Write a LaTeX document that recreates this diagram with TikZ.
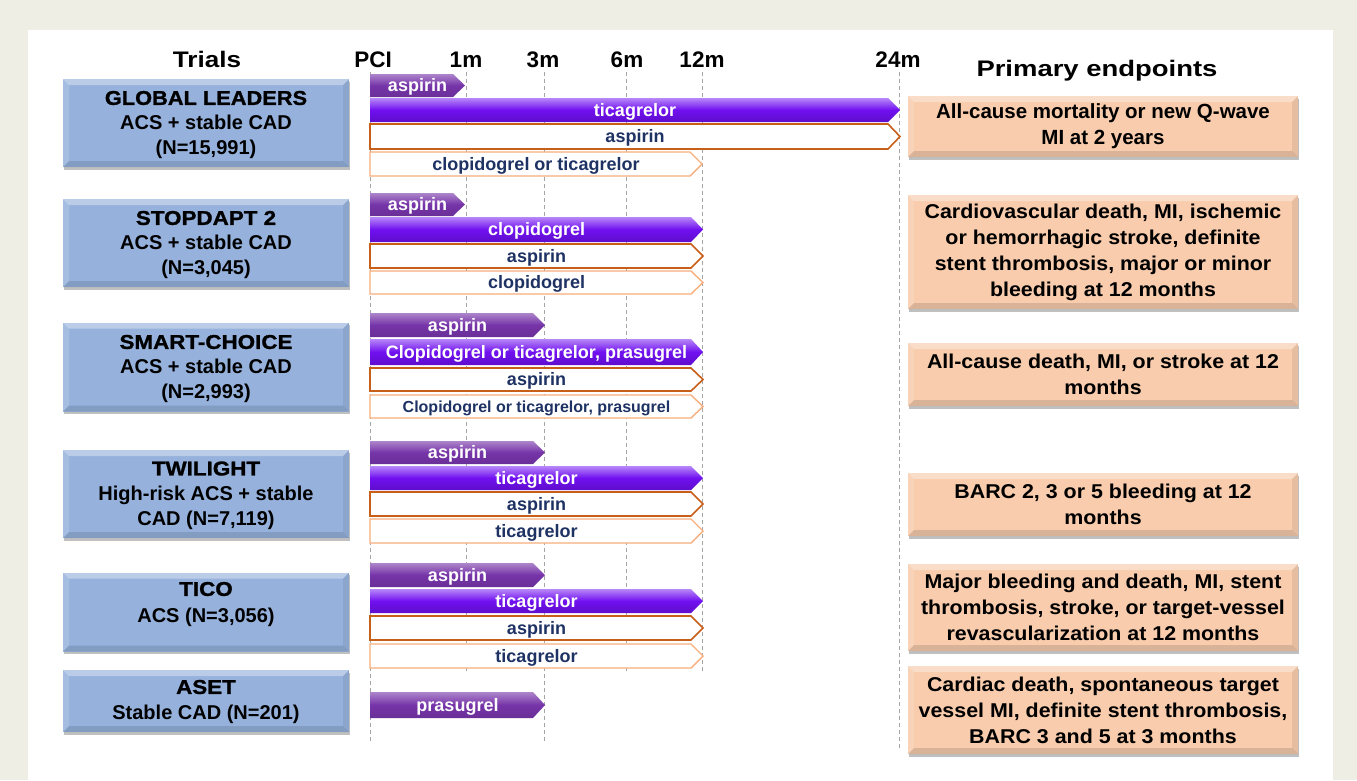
\documentclass[tikz,border=0pt]{standalone}
\usepackage{fontspec}
\setmainfont{Liberation Sans}
\newfontfamily\fwide[FakeStretch=1.22]{Liberation Sans}
\newfontfamily\fmid[FakeStretch=1.16]{Liberation Sans}
\newfontfamily\ftitle[FakeStretch=1.12,FakeBold=1.2]{Liberation Sans}
\newfontfamily\fgl[FakeStretch=1.09,FakeBold=1.2]{Liberation Sans}
\newfontfamily\frb[FakeStretch=1.07]{Liberation Sans}
\usetikzlibrary{shadows}
\definecolor{pshort}{RGB}{118,52,168}
\definecolor{plong}{RGB}{112,16,240}
\definecolor{odark}{RGB}{200,95,25}
\definecolor{olight}{RGB}{246,175,125}
\definecolor{navy}{RGB}{30,50,100}
\definecolor{trialblue}{RGB}{150,178,220}
\definecolor{peach}{RGB}{248,204,172}
\definecolor{beige}{RGB}{238,238,228}
\definecolor{dashgray}{RGB}{165,165,165}
\tikzset{
  bevel/.style={path picture={
    \fill[white,opacity=.35] (path picture bounding box.north west) -- (path picture bounding box.north east) -- ([xshift=-6pt,yshift=-6pt]path picture bounding box.north east) -- ([xshift=6pt,yshift=-6pt]path picture bounding box.north west) -- cycle;
    \fill[white,opacity=.15] (path picture bounding box.north west) -- ([xshift=6pt,yshift=-6pt]path picture bounding box.north west) -- ([xshift=6pt,yshift=6pt]path picture bounding box.south west) -- (path picture bounding box.south west) -- cycle;
    \fill[black,opacity=.07] (path picture bounding box.north east) -- ([xshift=-6pt,yshift=-6pt]path picture bounding box.north east) -- ([xshift=-6pt,yshift=6pt]path picture bounding box.south east) -- (path picture bounding box.south east) -- cycle;
    \fill[black,opacity=.12] (path picture bounding box.south west) -- ([xshift=6pt,yshift=6pt]path picture bounding box.south west) -- ([xshift=-6pt,yshift=6pt]path picture bounding box.south east) -- (path picture bounding box.south east) -- cycle;
  }},
  boxshadow/.style={drop shadow={shadow xshift=1pt,shadow yshift=-2.5pt,opacity=.35,fill=black!70}},
  trial/.style={rectangle, fill=trialblue, minimum width=286pt, minimum height=#1, inner sep=0pt, align=center, boxshadow, bevel, font=\bfseries\fontsize{20}{25}\selectfont},
  endpoint/.style={rectangle, fill=peach, minimum width=390pt, minimum height=#1, inner sep=0pt, align=center, boxshadow, bevel, font=\frb\bfseries\fontsize{20}{26}\selectfont},
  hdr/.style={anchor=base, inner sep=0pt, font=\bfseries\fontsize{22.5}{22.5}\selectfont},
  sA/.style={top color=pshort!60!white, bottom color=pshort!90!black, middle color=pshort},
  lA/.style={top color=plong!50!white, bottom color=plong!85!black, middle color=plong},
  wD/.style={fill=white, draw=odark, line width=1.6pt, line join=miter},
  wL/.style={fill=white, draw=olight, line width=1.4pt, line join=miter},
  wt/.style={anchor=base, inner sep=0pt, text=white, font=\bfseries\fontsize{18}{20}\selectfont},
  nt/.style={anchor=base, inner sep=0pt, text=navy, font=\bfseries\fontsize{18}{20}\selectfont},
  nts/.style={anchor=base, inner sep=0pt, text=navy, font=\bfseries\fontsize{16}{18}\selectfont},
  grid/.style={draw=dashgray, line width=0.8pt, dash pattern=on 4pt off 3pt},
}
\newcommand\drugbar[8]{%
  \path[#1] (#3,#5) -- ({#4-12},#5) -- (#4,{(#5+#6)/2}) -- ({#4-12},#6) -- (#3,#6) -- cycle;
  \node[#2] (#7) at ({(#3+#4)/2},{(#5+#6)/2+6.3}) {#8};
}
\newcommand\ttl[1]{{\ftitle\bfseries\fontsize{20}{25}\selectfont #1}}
\newcommand\gtl[1]{{\fgl\bfseries\fontsize{20}{25}\selectfont #1}}
\begin{document}
\begin{tikzpicture}[x=1pt,y=-1pt]
\useasboundingbox (0,0) rectangle (1357,780);
\fill[beige] (0,0) rectangle (1357,780);
\fill[white] (28,30) rectangle (1333,780);

% header
\node[hdr, font=\fmid\bfseries\fontsize{22.5}{22.5}\selectfont] (hTrials) at (207,67) {Trials};
\node[hdr] (hPCI) at (373,67) {PCI};
\node[hdr] (h1m) at (466,67) {1m};
\node[hdr] (h3m) at (543,67) {3m};
\node[hdr] (h6m) at (627,67) {6m};
\node[hdr] (h12m) at (702,67) {12m};
\node[hdr] (h24m) at (898,67) {24m};
\node[hdr, font=\fwide\bfseries\fontsize{22.5}{22.5}\selectfont] (hPrim) at (1097,76) {Primary endpoints};

% time grid
\draw[grid] (370,72) -- (370,742);
\draw[grid] (466,72) -- (466,672);
\draw[grid] (544,72) -- (544,742);
\draw[grid] (626,72) -- (626,672);
\draw[grid] (702,72) -- (702,672);
\draw[grid] (899,72) -- (899,748);

% trial boxes
\node[trial=88pt] (tGL) at (206,123) {};
\node[align=center, inner sep=0pt, font=\bfseries\fontsize{20}{25}\selectfont] (tGLt) at (206,125) {\gtl{GLOBAL LEADERS}\\ACS + stable CAD\\(N=15,991)};
\node[trial=88pt] (tSD) at (206,243) {};
\node[align=center, inner sep=0pt, font=\bfseries\fontsize{20}{25}\selectfont] (tSDt) at (206,245) {\ttl{STOPDAPT 2}\\ACS + stable CAD\\(N=3,045)};
\node[trial=89pt] (tSC) at (206,367) {};
\node[align=center, inner sep=0pt, font=\bfseries\fontsize{20}{25}\selectfont] (tSCt) at (206,369) {\ttl{SMART-CHOICE}\\ACS + stable CAD\\(N=2,993)};
\node[trial=88pt] (tTW) at (206,494) {};
\node[align=center, inner sep=0pt, font=\bfseries\fontsize{20}{25}\selectfont] (tTWt) at (206,495.5) {\ttl{TWILIGHT}\\High-risk ACS + stable\\CAD (N=7,119)};
\node[trial=79pt] (tTI) at (206,612) {};
\node[align=center, inner sep=0pt, font=\bfseries\fontsize{20}{27}\selectfont] (tTIt) at (206,604.5) {\ttl{TICO}\\ACS (N=3,056)};
\node[trial=62pt] (tAS) at (206,701) {};
\node[align=center, inner sep=0pt, font=\bfseries\fontsize{20}{26}\selectfont] (tASt) at (206,702) {\ttl{ASET}\\Stable CAD (N=201)};

% GLOBAL LEADERS
\drugbar{sA}{wt}{370}{465}{74}{97}{glA}{aspirin}
\drugbar{lA}{wt}{370}{900}{98}{122}{glT}{ticagrelor}
\drugbar{wD}{nt}{370}{900}{124}{149}{glW}{aspirin}
\drugbar{wL}{nt}{370}{702}{152}{176}{glL}{clopidogrel or ticagrelor}
% STOPDAPT 2
\drugbar{sA}{wt}{370}{465}{193}{216}{sdA}{aspirin}
\drugbar{lA}{wt}{370}{703}{217}{242}{sdT}{clopidogrel}
\drugbar{wD}{nt}{370}{703}{244}{268}{sdW}{aspirin}
\drugbar{wL}{nt}{370}{703}{271}{294}{sdL}{clopidogrel}
% SMART-CHOICE
\drugbar{sA}{wt}{370}{545}{313}{337}{scA}{aspirin}
\drugbar{lA}{wt}{370}{703}{339}{365}{scT}{Clopidogrel or ticagrelor, prasugrel}
\drugbar{wD}{nt}{370}{703}{368}{391}{scW}{aspirin}
\drugbar{wL}{nts}{370}{703}{395}{418}{scL}{Clopidogrel or ticagrelor, prasugrel}
% TWILIGHT
\drugbar{sA}{wt}{370}{545}{441}{464}{twA}{aspirin}
\drugbar{lA}{wt}{370}{703}{466}{490}{twT}{ticagrelor}
\drugbar{wD}{nt}{370}{703}{492}{516}{twW}{aspirin}
\drugbar{wL}{nt}{370}{703}{519}{543}{twL}{ticagrelor}
% TICO
\drugbar{sA}{wt}{370}{545}{563}{587}{tiA}{aspirin}
\drugbar{lA}{wt}{370}{703}{589}{613}{tiT}{ticagrelor}
\drugbar{wD}{nt}{370}{703}{616}{640}{tiW}{aspirin}
\drugbar{wL}{nt}{370}{703}{644}{668}{tiL}{ticagrelor}
% ASET
\drugbar{sA}{wt}{370}{545}{692}{718}{asP}{prasugrel}

% endpoints
\node[endpoint=61pt, font=\bfseries\fontsize{20.5}{26}\selectfont] (eGL) at (1103,126.5) {All-cause mortality or new Q-wave\\MI at 2 years};
\node[endpoint=114pt] (eSD) at (1103,252) {Cardiovascular death, MI, ischemic\\or hemorrhagic stroke, definite\\stent thrombosis, major or minor\\bleeding at 12 months};
\node[endpoint=63pt] (eSC) at (1103,374.5) {All-cause death, MI, or stroke at 12\\months};
\node[endpoint=63pt] (eTW) at (1103,504.5) {BARC 2, 3 or 5 bleeding at 12\\months};
\node[endpoint=87pt] (eTI) at (1103,607.5) {Major bleeding and death, MI, stent\\thrombosis, stroke, or target-vessel\\revascularization at 12 months};
\node[endpoint=88pt] (eAS) at (1103,710) {Cardiac death, spontaneous target\\vessel MI, definite stent thrombosis,\\BARC 3 and 5 at 3 months};
\end{tikzpicture}
\end{document}
